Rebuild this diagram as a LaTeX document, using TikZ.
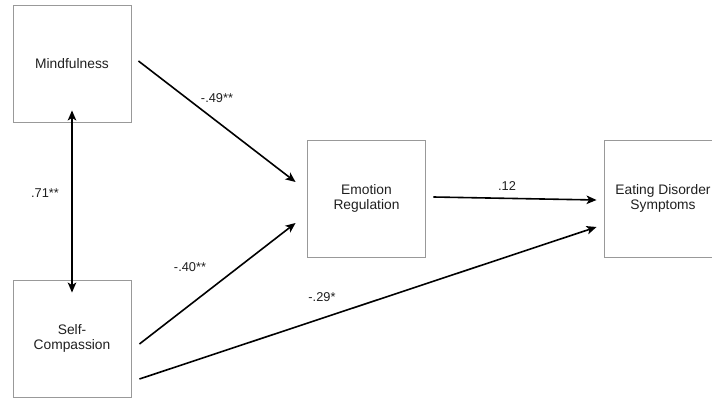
\documentclass[tikz,border=0pt]{standalone}
\usepackage{fontspec}
\setmainfont{Liberation Sans}
\usetikzlibrary{arrows.meta}
\begin{document}
\begin{tikzpicture}[x=1pt,y=-1pt,
  box/.style={draw=black!40, line width=0.9pt, minimum width=118pt, minimum height=117pt,
    inner sep=0pt, align=center, font=\fontsize{13.8}{15.5}\selectfont, text=black!88},
  conn/.style={line width=1.6pt, -{Stealth[length=10pt,width=8.5pt,inset=2.5pt]}},
  dconn/.style={line width=1.6pt, {Stealth[length=10pt,width=8.5pt,inset=2.5pt]}-{Stealth[length=10pt,width=8.5pt,inset=2.5pt]}},
  lbl/.style={font=\fontsize{12.8}{14}\selectfont, inner sep=0pt, text=black!88}]
\useasboundingbox (0,0) rectangle (712,398);
\clip (0,0) rectangle (712,398);
\node[box] (m) at (72,63.5) {Mindfulness};
\node[box] (sc) at (72,338.5) {Self-\\Compassion};
\node[box] (er) at (366.5,198.5) {Emotion\\Regulation};
\node[box] (eds) at (663,198.5) {Eating Disorder\\Symptoms};

\draw[dconn] ([yshift=12pt]m.south) -- ([yshift=-13pt]sc.north);
\draw[conn] ([shift={(7,-2.5)}]m.east) -- ([shift={(-11.5,-16.5)}]er.west);
\draw[conn] ([shift={(8,5.5)}]sc.east) -- ([shift={(-11.5,24.5)}]er.west);
\draw[conn] ([shift={(8,40.5)}]sc.east) -- ([shift={(-7,28.5)}]eds.west);
\draw[conn] ([shift={(7.5,-1.5)}]er.east) -- ([shift={(-7,1.5)}]eds.west);

\node[lbl] (l71) at (45,193) {.71**};
\node[lbl] (l49) at (217,98) {-.49**};
\node[lbl] (l40) at (190,267) {-.40**};
\node[lbl] (l29) at (322,297) {-.29*};
\node[lbl] (l12) at (507,186) {.12};
\end{tikzpicture}
\end{document}
